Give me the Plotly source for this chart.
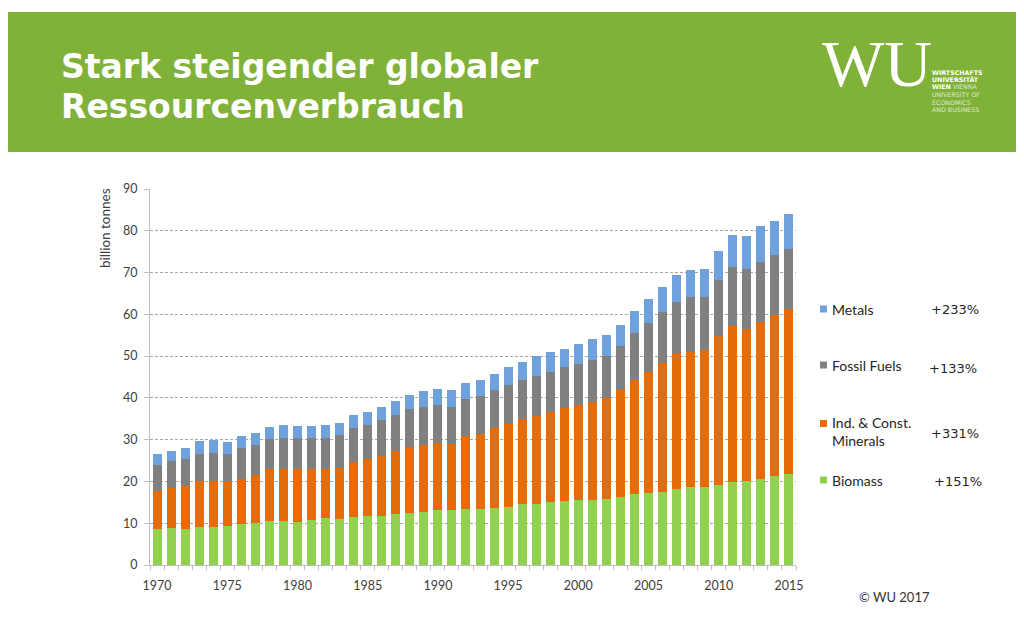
import plotly.graph_objects as go

years = list(range(1970, 2016))

# cumulative tops (billion tonnes)
top_biomass = [8.5, 8.8, 8.5, 9.0, 9.2, 9.4, 9.8, 10.0, 10.5, 10.5,
               10.4, 10.8, 11.2, 11.1, 11.6, 11.7, 11.8, 12.1, 12.4, 12.8,
               13.1, 13.1, 13.3, 13.3, 13.7, 13.8, 14.5, 14.7, 15.2, 15.4,
               15.5, 15.6, 15.8, 16.3, 16.9, 17.2, 17.4, 18.1, 18.7, 18.7,
               19.2, 19.9, 20.0, 20.7, 21.2, 21.7]
top_minerals = [17.8, 18.5, 18.9, 20.0, 20.2, 20.0, 20.5, 21.5, 22.9, 22.9,
                22.9, 22.9, 22.9, 23.3, 24.6, 25.4, 26.2, 27.3, 28.2, 28.8,
                29.2, 28.9, 30.8, 31.3, 32.7, 33.8, 34.9, 35.7, 36.7, 37.6,
                38.3, 39.0, 40.0, 41.8, 44.2, 46.3, 48.3, 50.5, 51.0, 51.5,
                54.8, 57.3, 56.6, 58.1, 59.8, 61.2]
top_fossil = [24.0, 24.8, 25.3, 26.6, 26.9, 26.6, 27.9, 28.8, 30.1, 30.5,
              30.5, 30.3, 30.5, 31.2, 32.7, 33.6, 34.7, 35.9, 37.3, 37.9,
              38.2, 37.9, 39.8, 40.4, 41.9, 43.2, 44.2, 45.2, 46.3, 47.4,
              48.2, 49.1, 50.1, 52.5, 55.6, 57.9, 60.5, 62.9, 64.1, 64.2,
              68.1, 71.3, 70.9, 72.6, 74.2, 75.6]
top_metals = [26.5, 27.3, 28.0, 29.6, 30.0, 29.4, 30.8, 31.7, 33.0, 33.5,
              33.3, 33.3, 33.5, 34.0, 35.8, 36.6, 37.9, 39.3, 40.8, 41.6,
              42.2, 41.9, 43.6, 44.2, 45.8, 47.4, 48.5, 50.0, 51.0, 51.8,
              53.0, 54.1, 55.0, 57.5, 60.9, 63.6, 66.5, 69.3, 70.5, 70.9,
              75.2, 79.0, 78.7, 81.1, 82.3, 84.0]

biomass = top_biomass
minerals = [round(b - a, 2) for a, b in zip(top_biomass, top_minerals)]
fossil = [round(b - a, 2) for a, b in zip(top_minerals, top_fossil)]
metals = [round(b - a, 2) for a, b in zip(top_fossil, top_metals)]

series_names = ["Biomass", "Ind. & Const.<br>Minerals", "Fossil Fuels", "Metals"]
series_values = [biomass, minerals, fossil, metals]
series_colors = ["#92D050", "#E46C0A", "#808080", "#6FA1DC"]
growth = ["+151%", "+331%", "+133%", "+233%"]

xtick_vals = list(range(1970, 2016, 5))
ytick_vals = list(range(0, 91, 10))

W, H = 1024, 623
def px(x):
    return x / W
def py(y):
    return 1 - y / H

fig = go.Figure()
for name, vals, col in zip(series_names, series_values, series_colors):
    fig.add_trace(go.Bar(x=years, y=vals, name=name, marker_color=col,
                         marker_line_width=0, showlegend=False))

boundaries = [y - 0.5 for y in years] + [years[-1] + 0.5]

fig.update_layout(
    width=W, height=H, barmode="stack", bargap=0.36, autosize=False,
    margin=dict(l=0, r=0, t=0, b=0, pad=0, autoexpand=False),
    paper_bgcolor="white", plot_bgcolor="white",
    font=dict(family="Lato", color="#404040"),
    xaxis=dict(domain=[px(150), px(796)], range=[1969.5, 2015.5], automargin=False,
               tickmode="array", tickvals=xtick_vals, ticks="",
               tickfont=dict(size=12.5, color="#404040"),
               showline=True, linecolor="#BFBFBF", linewidth=1,
               showgrid=False, zeroline=False, ticklabelstandoff=9,
               minor=dict(tickmode="array", tickvals=boundaries, ticks="outside",
                          ticklen=4, tickcolor="#BFBFBF", showgrid=False)),
    yaxis=dict(domain=[py(565), py(189)], range=[0, 90], automargin=False,
               tickmode="array", tickvals=ytick_vals, ticks="outside",
               ticklen=5, tickcolor="#BFBFBF",
               tickfont=dict(size=12.5, color="#404040"),
               showline=True, linecolor="#BFBFBF", linewidth=1,
               showgrid=True, gridcolor="#A6A6A6", griddash="3px,2px", gridwidth=1,
               zeroline=False, ticklabelstandoff=4),
)

shapes = [dict(type="rect", xref="paper", yref="paper", x0=px(8), x1=px(1016),
               y0=py(152), y1=py(12), fillcolor="#80B23A", line_width=0, layer="below")]

def ann(text, x, y, size, family="Lato", color="#262626", xanchor="left", **kw):
    d = dict(text=text, xref="paper", yref="paper", x=px(x), y=py(y),
             xanchor=xanchor, yanchor="middle", align="left", showarrow=False,
             borderpad=0, font=dict(family=family, size=size, color=color))
    d.update(kw)
    return d

annotations = [
    ann("<b>Stark steigender globaler</b>", 60, 66, 33, "DejaVu Sans", "white"),
    ann("<b>Ressourcenverbrauch</b>", 60, 106, 33, "DejaVu Sans", "white"),
    ann("billion tonnes", 105, 228, 13.5, "Lato", "#404040", xanchor="center", textangle=-90),
    ann("© WU 2017", 858, 597, 13, "Lato", "#333333"),
    ann("WU", 877, 63, 66, "Liberation Serif", "white", xanchor="center"),
]

logo_lines = [("<b>WIRTSCHAFTS</b>", 72), ("<b>UNIVERSITÄT</b>", 79.5),
              ("<b>WIEN</b> <span style='color:#DDEBC8'>VIENNA</span>", 87),
              ("<span style='color:#DDEBC8'>UNIVERSITY OF</span>", 94.5),
              ("<span style='color:#DDEBC8'>ECONOMICS</span>", 102),
              ("<span style='color:#DDEBC8'>AND BUSINESS</span>", 109.5)]
for t, y in logo_lines:
    annotations.append(ann(t, 931, y, 6.3, "DejaVu Sans", "white"))

legend_y = [480, 423.5, 365, 309]
label_y = [480, 431.5, 365, 309]
pct_x = [933, 930, 928, 930]
pct_y = [481, 433, 368, 309]
for name, col, g, sq_y, ty, gx, gy in zip(series_names, series_colors, growth, legend_y,
                                          label_y, pct_x, pct_y):
    shapes.append(dict(type="rect", xref="paper", yref="paper", x0=px(820), x1=px(827),
                       y0=py(sq_y + 3.5), y1=py(sq_y - 3.5), fillcolor=col, line_width=0))
    annotations.append(ann(name, 831, ty, 14, "Lato", "#262626"))
    annotations.append(ann(g, gx, gy, 13, "DejaVu Sans", "#262626"))

fig.update_layout(shapes=shapes, annotations=annotations)
fig.write_html("out.html", config={"displayModeBar": False},
               post_script="document.body.style.margin='0';document.body.style.padding='0';"
                           "document.documentElement.style.overflow='hidden';")
